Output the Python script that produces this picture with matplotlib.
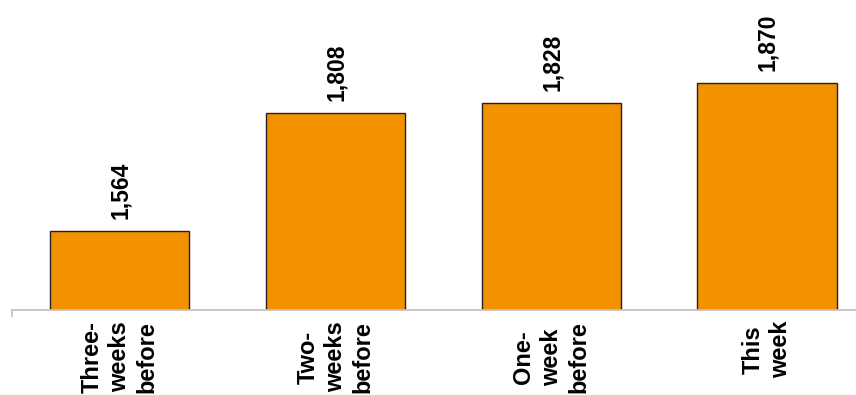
import matplotlib
matplotlib.use("Agg")
import matplotlib.pyplot as plt

categories = ["Three-\nweeks\nbefore", "Two-\nweeks\nbefore", "One-\nweek\nbefore", "This\nweek"]
values = [1564, 1808, 1828, 1870]

plt.rcParams['font.family'] = ['Liberation Sans', 'DejaVu Sans']

fig = plt.figure(figsize=(8.56, 3.95), dpi=100)
ax = fig.add_axes([12/856, 85/395, 844/856, 310/395])

x = list(range(len(values)))
ax.bar(x, values, width=0.645, color="#F39200", edgecolor="#222222", linewidth=1.0)

ax.set_ylim(1400, 2041)
ax.set_xlim(-0.5, -0.5 + 844/215.7)

for xi, v in zip(x, values):
    ax.annotate(f"{v:,}", (xi, v), xytext=(1, 12), textcoords="offset pixels",
                rotation=90, ha="center", va="bottom", fontsize=16.5, fontweight="bold")

for s in ["top", "right", "left"]:
    ax.spines[s].set_visible(False)
ax.spines["bottom"].set_color("#BFBFBF")
ax.spines["bottom"].set_linewidth(1.2)
ax.set_yticks([])
ax.set_xticks([-0.5])
ax.set_xticklabels([""])
ax.tick_params(axis="x", length=5, color="#BFBFBF", width=1.2)

for xi, lab in zip(x, categories):
    ax.annotate(lab, (xi, 1400), xytext=(0, -11), textcoords="offset pixels",
                rotation=90, ha="center", va="top", fontsize=17, fontweight="bold",
                multialignment="center", linespacing=1.25, annotation_clip=False)

fig.savefig("out.png", dpi=100)
